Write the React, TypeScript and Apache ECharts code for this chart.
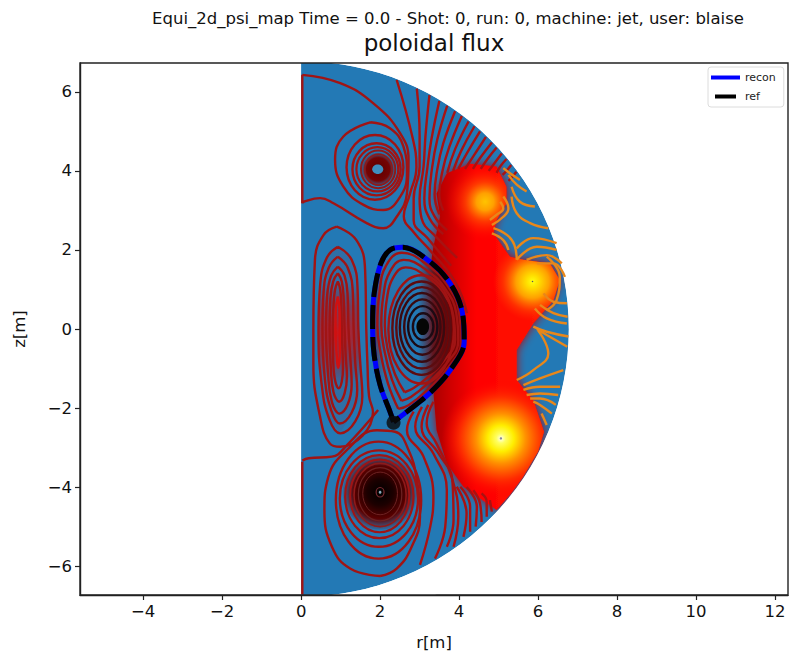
import React, { useEffect, useRef } from "react";
import * as echarts from "echarts";

const xTicks = [-4, -2, 0, 2, 4, 6, 8, 10, 12];
const yTicks = [-6, -4, -2, 0, 2, 4, 6];
const domainRadius = 6.78;

const lcfs = [[2.34,-2.35],[2.25,-2.09],[2.0,-1.42],[1.85,-0.66],[1.81,0.1],[1.85,0.9],[2.02,1.66],[2.25,2.0],[2.57,2.07],[3.24,1.72],[3.77,1.16],[4.08,0.44],[4.13,-0.32],[3.79,-1.02],[3.27,-1.61],[2.68,-2.09],[2.34,-2.35]];
const xPoint = [[2.34,-2.37]];

const heatRegion = [[3.3,1.75],[3.35,2.08],[3.52,2.84],[3.43,3.43],[3.69,3.94],[4.28,4.18],[4.95,4.11],[5.2,3.6],[5.2,3.18],[4.95,2.76],[4.87,2.42],[5.29,1.83],[5.63,1.75],[6.3,1.66],[6.55,1.24],[6.39,0.73],[5.88,0.14],[5.46,-0.53],[5.46,-1.29],[5.88,-1.8],[6.15,-2.6],[6.0,-3.1],[5.6,-3.77],[5.3,-4.18],[4.95,-4.58],[4.11,-3.99],[3.69,-3.4],[3.43,-2.56],[3.35,-1.6],[3.75,-1.1],[4.0,-0.5],[4.15,0.31],[3.8,1.2]];
// r, z, radius of each hot spot
const hotSpots = [[4.66,3.22,1.0],[5.86,1.2,1.0],[5.06,-2.77,1.5]];
const hotStops = [
  [[0,"#ffc400"],[0.22,"#ffa000"],[0.5,"rgba(255,70,0,0.8)"],[1,"rgba(255,0,0,0)"]],
  [[0,"#ffff10"],[0.15,"#ffe000"],[0.42,"#ffa000"],[0.75,"rgba(255,60,0,0.7)"],[1,"rgba(255,40,0,0)"]],
  [[0,"#fffff0"],[0.08,"#ffff60"],[0.22,"#ffee00"],[0.42,"#ff9000"],[0.7,"rgba(255,48,0,0.9)"],[1,"rgba(255,0,0,0)"]],
];

const topSeparatrix = [[0.03,6.43],[0.99,6.22],[1.83,5.71],[2.51,4.95],[2.72,4.28],[2.68,3.43],[2.42,2.84],[2.08,2.55],[1.66,2.68],[0.82,3.18],[0.48,3.31],[0.06,3.22],[0.03,3.18]];
const topWall = [[0.03,6.43],[0.03,3.18]];
const bottomWall = [[0.03,-3.36],[0.03,-6.72]];
const lowSeparatrix = [[0.03,-3.33],[0.19,-3.27],[0.78,-3.23],[1.15,-2.95],[1.95,-2.05]];
const topCoilOuter = [[1.75,5.23],[1.07,4.87],[0.86,4.28],[1.07,3.6],[1.58,3.14],[2.08,3.01],[2.51,3.35],[2.68,3.94],[2.59,4.62],[2.25,5.08],[1.75,5.23]];
const bottomCoilOuter = [[2.0,-6.25],[1.24,-6.06],[0.78,-5.51],[0.59,-4.58],[0.69,-3.74],[1.16,-3.06],[1.92,-2.56],[2.38,-2.6],[2.72,-3.06],[2.93,-3.82],[3.01,-4.75],[2.8,-5.51],[2.42,-6.06],[2.0,-6.25]];

const leftLoops = [
  [[0.9,2.59],[1.4,2.25],[1.62,1.5],[1.65,0],[1.68,-0.9],[1.72,-1.7],[1.82,-2.1],[0.99,-2.98],[0.73,-2.9],[0.48,-2.22],[0.31,-0.87],[0.31,0],[0.35,1.75],[0.57,2.38],[0.9,2.59]],
  [[0.93,2.08],[1.28,1.75],[1.43,1.0],[1.45,0],[1.5,-0.9],[1.55,-1.7],[0.99,-2.64],[0.72,-2.3],[0.52,-1.4],[0.44,0],[0.48,1.1],[0.65,1.8],[0.93,2.08]],
  [[0.93,1.83],[1.18,1.55],[1.31,0.9],[1.33,0],[1.37,-0.85],[1.42,-1.55],[0.98,-2.39],[0.76,-2.05],[0.6,-1.25],[0.54,0],[0.57,0.95],[0.7,1.55],[0.93,1.83]],
  [[0.93,1.58],[1.1,1.35],[1.18,0.8],[1.2,0],[1.25,-0.8],[1.28,-1.4],[0.97,-2.14],[0.78,-1.85],[0.68,-1.1],[0.63,0],[0.66,0.85],[0.76,1.35],[0.93,1.58]],
  [[0.93,1.41],[1.03,1.2],[1.08,0.7],[1.1,0],[1.13,-0.7],[1.16,-1.2],[0.96,-1.84],[0.82,-1.6],[0.75,-0.95],[0.72,0],[0.74,0.75],[0.81,1.2],[0.93,1.41]],
  [[0.93,1.2],[0.99,1.0],[1.02,0.55],[1.03,0],[1.05,-0.6],[1.06,-1.0],[0.95,-1.5],[0.85,-1.25],[0.81,-0.7],[0.8,0],[0.82,0.6],[0.86,1.0],[0.93,1.2]],
  [[0.93,0.82],[0.97,0.5],[0.98,0],[0.98,-0.5],[0.94,-0.98],[0.89,-0.5],[0.87,0],[0.88,0.5],[0.93,0.82]],
];

const plasmaLoops = [
  [[2.46,-2.02],[2.2,-1.38],[2.02,-0.64],[1.93,0.1],[1.98,0.88],[2.15,1.6],[2.55,1.93],[3.22,1.6],[3.72,1.08],[4.0,0.42],[4.05,-0.32],[3.72,-0.98],[3.22,-1.52],[2.72,-1.93],[2.46,-2.02]],
  [[2.54,-1.82],[2.3,-1.28],[2.12,-0.6],[2.03,0.1],[2.08,0.82],[2.25,1.45],[2.6,1.75],[3.2,1.47],[3.66,1.0],[3.93,0.4],[3.98,-0.3],[3.66,-0.9],[3.18,-1.4],[2.78,-1.72],[2.54,-1.82]],
  [[2.62,-1.6],[2.38,-1.15],[2.2,-0.55],[2.12,0.08],[2.17,0.75],[2.33,1.3],[2.65,1.56],[3.18,1.32],[3.6,0.9],[3.85,0.36],[3.9,-0.27],[3.6,-0.82],[3.15,-1.27],[2.84,-1.5],[2.62,-1.6]],
];

const topFan = [
  [[2.42,6.30],[2.82,4.85],[2.92,4.1],[2.75,3.4],[2.6,2.85],[2.85,2.45],[3.3,1.95],[3.9,1.2],[4.2,0.4]],
  [[2.93,6.08],[3.0,4.9],[3.0,4.1],[2.85,3.3],[2.85,2.75],[3.2,2.3],[3.8,1.6]],
  [[3.25,5.92],[3.15,4.9],[3.1,4.1],[3.0,3.3],[3.05,2.8],[3.45,2.3],[3.95,1.8]],
  [[3.5,5.77],[3.3,4.8],[3.2,4.1],[3.12,3.3],[3.25,2.8],[3.6,2.4]],
  [[3.7,5.65],[3.45,4.8],[3.32,4.1],[3.25,3.3],[3.38,2.85],[3.7,2.5]],
  [[3.9,5.51],[3.6,4.7],[3.45,4.05],[3.38,3.4],[3.5,2.9]],
  [[4.07,5.39],[3.75,4.6],[3.58,4.0],[3.5,3.4],[3.6,3.0]],
  [[4.24,5.25],[3.9,4.55],[3.7,3.95]],
  [[4.39,5.13],[4.05,4.5],[3.85,4.0]],
  [[4.53,5.0],[4.2,4.45],[3.98,4.05]],
  [[4.68,4.86],[4.38,4.4],[4.15,4.05]],
  [[4.83,4.72],[4.55,4.35],[4.35,4.05]],
  [[4.95,4.59],[4.72,4.3],[4.55,4.05]],
  [[5.08,4.44],[4.9,4.2],[4.75,4.0]],
  [[5.2,4.3],[5.05,4.12],[4.95,3.95]],
  [[5.32,4.15],[5.2,4.0],[5.1,3.9]],
  [[5.45,3.98],[5.35,3.85],[5.25,3.75]],
];

const bottomFan = [
  [[3.01,-5.97],[3.27,-5.0],[3.35,-4.25],[3.1,-3.23],[2.68,-2.56],[2.85,-2.09]],
  [[3.39,-5.81],[3.65,-5.0],[3.69,-4.08],[3.35,-3.15],[2.89,-2.47],[3.06,-1.97]],
  [[3.69,-5.51],[3.86,-4.84],[3.83,-3.82],[3.48,-3.15],[3.05,-2.47],[3.22,-1.92]],
  [[3.86,-5.51],[3.98,-4.75],[3.81,-3.74],[3.43,-2.9],[3.18,-2.39],[3.35,-1.84]],
  [[4.11,-5.26],[4.19,-4.67],[3.94,-3.99]],
  [[4.28,-5.13],[4.28,-4.5],[4.03,-3.99]],
  [[4.42,-5.0],[4.45,-4.5],[4.19,-4.0]],
  [[4.57,-4.88],[4.53,-4.41],[4.36,-4.08]],
  [[4.7,-4.75],[4.7,-4.37],[4.57,-4.16]],
  [[4.83,-4.62],[4.78,-4.33]],
];

const orangeLines = [
  [[5.33,3.35],[5.46,2.93],[5.8,2.68],[6.26,2.55]],
  [[5.92,3.1],[5.54,3.22],[5.33,3.6]],
  [[5.71,3.48],[5.46,3.65],[5.25,3.9]],
  [[5.54,3.77],[5.29,3.94],[5.12,4.07]],
  [[5.12,3.35],[5.25,3.05],[5.12,2.84],[4.83,2.63]],
  [[5.04,3.22],[5.12,3.05],[4.95,2.89],[4.78,2.76]],
  [[4.87,2.55],[5.21,2.38],[5.4,2.13],[5.46,1.75]],
  [[4.83,2.42],[5.12,2.25],[5.25,2.0]],
  [[5.46,2.04],[5.88,2.3],[6.47,2.17]],
  [[5.46,1.75],[5.97,2.08],[6.47,2.0]],
  [[5.71,1.75],[6.22,1.87],[6.6,1.66]],
  [[5.97,1.66],[6.39,1.66],[6.68,1.32]],
  [[6.22,1.83],[6.55,1.32],[6.47,0.73],[6.22,0.48]],
  [[6.73,0.65],[6.39,0.69],[6.14,0.9]],
  [[6.75,0.31],[6.39,0.4],[6.05,0.61]],
  [[6.73,0.14],[6.22,0.27],[5.92,0.52]],
  [[6.77,-0.19],[6.22,-0.07],[5.88,0.06]],
  [[6.74,-0.45],[6.22,-0.15],[5.97,0.0]],
  [[6.0,-0.03],[6.26,-0.62],[5.88,-1.04],[5.46,-1.29]],
  [[6.64,-1.04],[6.05,-1.25],[5.63,-1.42]],
  [[6.56,-1.46],[6.05,-1.46],[5.63,-1.54]],
  [[6.51,-1.67],[6.05,-1.63],[5.71,-1.67]],
  [[6.45,-1.92],[6.05,-1.76],[5.8,-1.76]],
  [[6.35,-2.14],[6.05,-1.92],[5.88,-1.84]],
  [[6.22,-2.43],[6.09,-2.14]],
];

// r, z, half width, half height, line width, colour index
const ringColors = ["#a01414", "#8e1a1a", "#6e2222", "#1c0a14", "#3a0a10", "#5c0c10", "#7c2a30"];
const contourRings = [
  [1.87,4.09,0.72,0.82,2.4,0],[1.91,4.04,0.61,0.66,2.4,0],[1.93,4.04,0.53,0.56,2.2,0],[1.95,4.04,0.435,0.477,2,1],[1.96,4.03,0.35,0.39,1.6,1],
  [1.96,-4.33,1.08,1.48,2.4,0],[1.97,-4.29,0.99,1.22,2.4,0],[1.98,-4.24,0.865,1.05,2.2,0],[1.99,-4.22,0.75,0.92,2,0],[2.0,-4.2,0.66,0.8,1.6,1],[2.0,-4.18,0.55,0.675,1.2,2],[2.0,-4.16,0.44,0.54,1,2],
  [3.09,0.06,0.26,0.34,2.4,3],[3.08,0.06,0.37,0.52,2.4,3],[3.07,0.05,0.46,0.7,2.4,4],[3.06,0.04,0.56,0.87,2.4,4],[3.06,0.03,0.65,1.03,2.4,5],[3.05,0.02,0.74,1.18,2.4,5],[3.04,-0.01,0.83,1.37,2.4,0],
  [2.0,-4.13,0.1,0.12,1.2,6],
];
// r, z, radius
const darkSpots = [[1.95,4.04,0.42],[2.0,-4.13,0.95]];
// r, z, half width, half height, colour
const coreMarks = [
  [1.94,4.04,0.14,0.12,"#3f8fbe"],
  [3.08,0.06,0.16,0.21,"#060606"],
  [5.86,1.2,0.02,0.02,"#556"],
  [5.06,-2.77,0.03,0.03,"#889"],
  [2.0,-4.13,0.035,0.04,"#8ab"],
];

const LINE = "#a01414";
const ORANGE = "#e8871a";

function contour(data: number[][], color = LINE, width = 2.4, z = 5) {
  return { type: "line", data, smooth: 0.45, symbol: "none", silent: true, z, lineStyle: { color, width }, animation: false };
}

function customSeries(z: number, renderItem: any, data: any[] = [[0, 0]]) {
  return { type: "custom", coordinateSystem: "cartesian2d", data, renderItem, z, clip: true, silent: true, encode: { x: 0, y: 1 } };
}

function polygonFill(points: number[][], fill: (api: any) => any, extra: any = {}) {
  return (_p: any, api: any) => ({
    type: "polygon",
    shape: { points: points.map((q) => api.coord(q)) },
    style: { fill: fill(api), ...extra },
  });
}

function radial(api: any, r: number, z: number, rad: number, stops: any[]) {
  const c = api.coord([r, z]);
  const px = api.size([rad, 0])[0];
  return new echarts.graphic.RadialGradient(c[0], c[1], px, stops.map(([offset, color]: any) => ({ offset, color })), true);
}

export default function App() {
  const ref = useRef<HTMLDivElement>(null);
  useEffect(() => {
    document.body.style.margin = "0";
    const chart = echarts.init(ref.current!, null, { renderer: "svg" });
    const font = "DejaVu Sans";
    const series: any[] = [
      customSeries(1, (_p: any, api: any) => {
        const c = api.coord([0, 0]);
        return { type: "sector", shape: { cx: c[0], cy: c[1], r: api.size([domainRadius, 0])[0], r0: 0, startAngle: -Math.PI / 2, endAngle: Math.PI / 2, clockwise: true }, style: { fill: "#2379b5" } };
      }),
      customSeries(2, polygonFill(heatRegion, () => new echarts.graphic.LinearGradient(0, 0, 1, 0, [
        { offset: 0, color: "#a50202" }, { offset: 0.16, color: "#d20000" }, { offset: 0.35, color: "#ff0000" }, { offset: 1, color: "#ff1a00" },
      ]), { shadowBlur: 10, shadowColor: "#c00000" })),
      ...hotSpots.map((h, i) => customSeries(3, polygonFill(heatRegion, (api) => radial(api, h[0], h[1], h[2], hotStops[i])))),
      customSeries(4, (_p: any, api: any) => {
        const c = api.coord([0, 0]);
        const px = api.size([domainRadius, 0])[0];
        return { type: "sector", shape: { cx: c[0], cy: c[1], r: px + 30, r0: px, startAngle: -Math.PI / 2, endAngle: Math.PI / 2, clockwise: true }, style: { fill: "#fff" } };
      }),
      customSeries(4, polygonFill(lcfs, () => new echarts.graphic.LinearGradient(0, 0, 1, 0, [
        { offset: 0, color: "rgba(125,4,4,0.6)" }, { offset: 0.12, color: "rgba(125,4,4,0.05)" }, { offset: 0.5, color: "rgba(110,4,4,0)" }, { offset: 0.66, color: "rgba(110,4,4,0.85)" }, { offset: 0.8, color: "rgba(115,4,4,1)" }, { offset: 1, color: "rgba(125,4,4,1)" },
      ]))),
      customSeries(2, polygonFill(leftLoops[1], (api) => radial(api, 0.93, -0.1, 1.3, [[0, "rgba(215,15,15,0.95)"], [0.6, "rgba(170,20,30,0.55)"], [1, "rgba(150,20,30,0.1)"]]))),
      ...darkSpots.map((s, i) => customSeries(3, (_p: any, api: any) => {
        const c = api.coord([s[0], s[1]]);
        const px = api.size([s[2], 0])[0];
        return { type: "circle", shape: { cx: c[0], cy: c[1], r: px }, style: { fill: radial(api, s[0], s[1], s[2], i === 0
          ? [[0, "#5c0000"], [0.7, "#750404"], [1, "rgba(130,10,10,0.2)"]]
          : [[0, "#000000"], [0.35, "#1c0000"], [0.7, "#5a0000"], [1, "rgba(120,0,0,0.1)"]]) } };
      })),
      contour(topSeparatrix), contour(topWall), contour(bottomWall), contour(lowSeparatrix), contour(topCoilOuter), contour(bottomCoilOuter),
      ...leftLoops.map((l, i) => contour(l, i === 6 ? "#d01010" : LINE)),
      ...plasmaLoops.map((l) => contour(l)),
      ...topFan.map((l) => contour(l, "#a81212")),
      ...bottomFan.map((l) => contour(l, "#a81212")),
      ...orangeLines.map((l) => contour(l, ORANGE)),
      customSeries(6, (_p: any, api: any) => {
        const c = api.coord([api.value(0), api.value(1)]);
        return { type: "ellipse", shape: { cx: c[0], cy: c[1], rx: api.size([api.value(2), 0])[0], ry: api.size([0, api.value(3)])[1] }, style: { fill: "none", stroke: ringColors[api.value(5)], lineWidth: api.value(4) } };
      }, contourRings),
      customSeries(7, (p: any, api: any) => {
        const c = api.coord([api.value(0), api.value(1)]);
        return { type: "ellipse", shape: { cx: c[0], cy: c[1], rx: api.size([api.value(2), 0])[0], ry: api.size([0, api.value(3)])[1] }, style: { fill: coreMarks[p.dataIndex][4] as string } };
      }, coreMarks.map((m) => m.slice(0, 4))),
      { name: "recon", type: "line", data: lcfs, smooth: 0.35, symbol: "none", silent: true, z: 8, itemStyle: { color: "#0000ff" }, lineStyle: { color: "#0000ff", width: 5 } },
      { name: "ref", type: "line", data: lcfs, smooth: 0.35, symbol: "none", silent: true, z: 9, itemStyle: { color: "#000" }, lineStyle: { color: "#000", width: 5, type: [24, 8] } },
      { type: "scatter", data: xPoint, symbolSize: 14, silent: true, z: 10, itemStyle: { color: "#0a0a0a" } },
    ];
    chart.setOption({
      animation: false,
      title: [
        { text: "Equi_2d_psi_map Time = 0.0 - Shot: 0, run: 0, machine: jet, user: blaise", left: 443, top: 5, textAlign: "center", textStyle: { fontFamily: font, fontSize: 16.5, fontWeight: "normal", color: "#111" } },
        { text: "poloidal flux", left: 429, top: 26, textAlign: "center", textStyle: { fontFamily: font, fontSize: 23, fontWeight: "normal", color: "#111" } },
      ],
      grid: { left: 80, right: 1, top: 63, bottom: 61, show: false },
      legend: {
        data: [
          { name: "recon", icon: "path://M0,0H29V4H0Z", itemStyle: { color: "#0000ff" } },
          { name: "ref", icon: "path://M0,0L0,0M4,0H25V4H4ZM29,4L29,4", itemStyle: { color: "#000" } },
        ],
        orient: "vertical", left: 708, top: 67, itemWidth: 29, itemHeight: 4, itemGap: 8,
        padding: [5, 8, 5, 3], backgroundColor: "#fff", borderColor: "#dcdcdc", borderWidth: 1, borderRadius: 3,
        textStyle: { fontFamily: font, fontSize: 11, color: "#222" }, selectedMode: false,
      },
      xAxis: {
        type: "value", min: -5.6, max: 12.33, name: "r[m]", nameLocation: "middle", nameGap: 39,
        nameTextStyle: { fontFamily: font, fontSize: 16.5, color: "#111" },
        axisLine: { onZero: false, lineStyle: { color: "#222", width: 1.4 } },
        axisTick: { length: 5, inside: false, customValues: xTicks, lineStyle: { color: "#222", width: 1.2 } },
        axisLabel: { customValues: xTicks, fontFamily: font, fontSize: 16.5, color: "#111", margin: 8, formatter: (v: number) => String(v).replace("-", "\u2212") },
        splitLine: { show: false },
      },
      yAxis: {
        type: "value", min: -6.73, max: 6.73, name: "z[m]", nameLocation: "middle", nameGap: 52,
        nameTextStyle: { fontFamily: font, fontSize: 16.5, color: "#111" },
        axisLine: { onZero: false, lineStyle: { color: "#222", width: 1.4 } },
        axisTick: { length: 5, inside: false, customValues: yTicks, lineStyle: { color: "#222", width: 1.2 } },
        axisLabel: { customValues: yTicks, fontFamily: font, fontSize: 16.5, color: "#111", margin: 8, formatter: (v: number) => String(v).replace("-", "\u2212") },
        splitLine: { show: false },
      },
      graphic: [{ type: "rect", z: 20, silent: true, shape: { x: 80, y: 63, width: 708, height: 532 }, style: { fill: "none", stroke: "#222", lineWidth: 1.4 } }],
      series,
    });
    return () => chart.dispose();
  }, []);
  return <div ref={ref} style={{ position: "fixed", left: 0, top: 0, width: 789, height: 656, background: "#fff" }} />;
}
